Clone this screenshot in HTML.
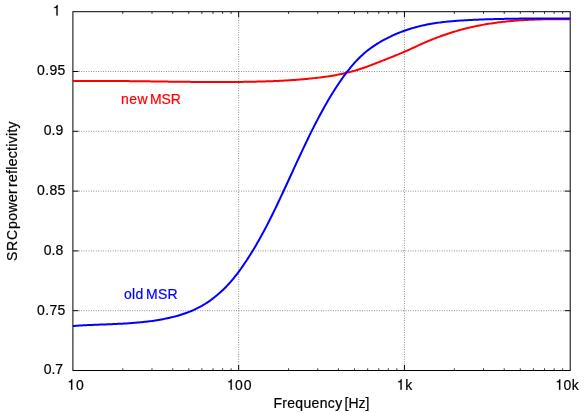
<!DOCTYPE html>
<html><head><meta charset="utf-8"><title>SRC power reflectivity</title>
<style>
html,body{margin:0;padding:0;background:#fff;}
body{width:581px;height:413px;overflow:hidden;}
svg{display:block;will-change:transform;}
text{font-family:"Liberation Sans",sans-serif;font-size:14px;fill:#000;stroke:#000;stroke-width:0.2px;}
</style></head><body>
<svg width="581" height="413" viewBox="0 0 581 413">
<rect x="0" y="0" width="581" height="413" fill="#fff"/>

<g stroke="#000" stroke-width="0.55" stroke-dasharray="0.8 1.62" fill="none">
<path d="M78.90,71.50 H564.20"/>
<path d="M78.90,131.30 H564.20"/>
<path d="M78.90,191.10 H564.20"/>
<path d="M78.90,250.90 H564.20"/>
<path d="M78.90,310.70 H564.20"/>
<path d="M238.67,17.70 V364.50"/>
<path d="M404.43,17.70 V364.50"/>
</g>
<path d="M72.90,71.50 h5.5 M570.20,71.50 h-5.5 M72.90,131.30 h5.5 M570.20,131.30 h-5.5 M72.90,191.10 h5.5 M570.20,191.10 h-5.5 M72.90,250.90 h5.5 M570.20,250.90 h-5.5 M72.90,310.70 h5.5 M570.20,310.70 h-5.5 M238.67,370.50 v-5.5 M238.67,11.70 v5.5 M404.43,370.50 v-5.5 M404.43,11.70 v5.5" stroke="#000" stroke-width="1" fill="none"/>
<path d="M122.80,370.50 v-2.2 M122.80,11.70 v2.2 M151.99,370.50 v-2.2 M151.99,11.70 v2.2 M172.70,370.50 v-2.2 M172.70,11.70 v2.2 M188.77,370.50 v-2.2 M188.77,11.70 v2.2 M201.89,370.50 v-2.2 M201.89,11.70 v2.2 M212.99,370.50 v-2.2 M212.99,11.70 v2.2 M222.60,370.50 v-2.2 M222.60,11.70 v2.2 M231.08,370.50 v-2.2 M231.08,11.70 v2.2 M288.57,370.50 v-2.2 M288.57,11.70 v2.2 M317.76,370.50 v-2.2 M317.76,11.70 v2.2 M338.47,370.50 v-2.2 M338.47,11.70 v2.2 M354.53,370.50 v-2.2 M354.53,11.70 v2.2 M367.66,370.50 v-2.2 M367.66,11.70 v2.2 M378.76,370.50 v-2.2 M378.76,11.70 v2.2 M388.37,370.50 v-2.2 M388.37,11.70 v2.2 M396.85,370.50 v-2.2 M396.85,11.70 v2.2 M454.33,370.50 v-2.2 M454.33,11.70 v2.2 M483.52,370.50 v-2.2 M483.52,11.70 v2.2 M504.23,370.50 v-2.2 M504.23,11.70 v2.2 M520.30,370.50 v-2.2 M520.30,11.70 v2.2 M533.42,370.50 v-2.2 M533.42,11.70 v2.2 M544.52,370.50 v-2.2 M544.52,11.70 v2.2 M554.14,370.50 v-2.2 M554.14,11.70 v2.2 M562.61,370.50 v-2.2 M562.61,11.70 v2.2" stroke="#000" stroke-width="0.8" fill="none"/>
<rect x="72.9" y="11.7" width="497.30" height="358.80" fill="none" stroke="#000" stroke-width="1"/>
<path d="M72.90,81.09 L74.40,81.07 L75.90,81.05 L77.40,81.03 L78.90,81.02 L80.40,81.01 L81.90,80.99 L83.40,80.98 L84.90,80.97 L86.40,80.97 L87.90,80.96 L89.40,80.95 L90.90,80.95 L92.40,80.94 L93.90,80.94 L95.40,80.94 L96.90,80.94 L98.40,80.94 L99.90,80.94 L101.40,80.94 L102.90,80.94 L104.40,80.95 L105.90,80.95 L107.40,80.96 L108.90,80.97 L110.40,80.97 L111.90,80.98 L113.40,80.99 L114.90,81.00 L116.40,81.01 L117.90,81.02 L119.40,81.03 L120.90,81.05 L122.40,81.06 L123.90,81.07 L125.40,81.09 L126.90,81.10 L128.40,81.12 L129.90,81.13 L131.40,81.15 L132.90,81.16 L134.40,81.18 L135.90,81.20 L137.40,81.22 L138.90,81.23 L140.40,81.25 L141.90,81.27 L143.40,81.29 L144.90,81.31 L146.40,81.33 L147.90,81.35 L149.40,81.37 L150.90,81.39 L152.40,81.41 L153.90,81.43 L155.40,81.45 L156.90,81.47 L158.40,81.49 L159.90,81.51 L161.40,81.53 L162.90,81.55 L164.40,81.57 L165.90,81.59 L167.40,81.61 L168.90,81.63 L170.40,81.65 L171.90,81.67 L173.40,81.69 L174.90,81.70 L176.40,81.72 L177.90,81.74 L179.40,81.76 L180.90,81.78 L182.40,81.79 L183.90,81.81 L185.40,81.83 L186.90,81.84 L188.40,81.86 L189.90,81.87 L191.40,81.89 L192.90,81.90 L194.40,81.91 L195.90,81.93 L197.40,81.94 L198.90,81.95 L200.40,81.96 L201.90,81.97 L203.40,81.98 L204.90,81.99 L206.40,82.00 L207.90,82.00 L209.40,82.01 L210.90,82.02 L212.40,82.02 L213.90,82.02 L215.40,82.03 L216.90,82.03 L218.40,82.03 L219.90,82.03 L221.40,82.03 L222.90,82.03 L224.40,82.02 L225.90,82.02 L227.40,82.01 L228.90,82.01 L230.40,82.00 L231.90,81.99 L233.40,81.98 L234.90,81.97 L236.40,81.96 L237.90,81.94 L239.40,81.93 L240.90,81.91 L242.40,81.89 L243.90,81.87 L245.40,81.85 L246.90,81.83 L248.40,81.80 L249.90,81.78 L251.40,81.75 L252.90,81.72 L254.40,81.69 L255.90,81.66 L257.40,81.62 L258.90,81.58 L260.40,81.54 L261.90,81.50 L263.40,81.46 L264.90,81.41 L266.40,81.36 L267.90,81.31 L269.40,81.26 L270.90,81.20 L272.40,81.14 L273.90,81.08 L275.40,81.01 L276.90,80.95 L278.40,80.88 L279.90,80.80 L281.40,80.73 L282.90,80.65 L284.40,80.56 L285.90,80.48 L287.40,80.39 L288.90,80.29 L290.40,80.20 L291.90,80.10 L293.40,79.99 L294.90,79.89 L296.40,79.78 L297.90,79.66 L299.40,79.54 L300.90,79.42 L302.40,79.30 L303.90,79.16 L305.40,79.03 L306.90,78.89 L308.40,78.75 L309.90,78.60 L311.40,78.45 L312.90,78.29 L314.40,78.13 L315.90,77.97 L317.40,77.79 L318.90,77.62 L320.40,77.43 L321.90,77.24 L323.40,77.04 L324.90,76.83 L326.40,76.62 L327.90,76.40 L329.40,76.17 L330.90,75.93 L332.40,75.68 L333.90,75.42 L335.40,75.16 L336.90,74.88 L338.40,74.59 L339.90,74.29 L341.40,73.98 L342.90,73.66 L344.40,73.33 L345.90,72.98 L347.40,72.62 L348.90,72.25 L350.40,71.87 L351.90,71.47 L353.40,71.06 L354.90,70.63 L356.40,70.19 L357.90,69.74 L359.40,69.27 L360.90,68.78 L362.40,68.28 L363.90,67.77 L365.40,67.24 L366.90,66.70 L368.40,66.15 L369.90,65.59 L371.40,65.02 L372.90,64.44 L374.40,63.86 L375.90,63.28 L377.40,62.69 L378.90,62.10 L380.40,61.50 L381.90,60.91 L383.40,60.32 L384.90,59.73 L386.40,59.13 L387.90,58.54 L389.40,57.94 L390.90,57.35 L392.40,56.75 L393.90,56.14 L395.40,55.53 L396.90,54.92 L398.40,54.30 L399.90,53.68 L401.40,53.05 L402.90,52.41 L404.40,51.77 L405.90,51.12 L407.40,50.46 L408.90,49.79 L410.40,49.12 L411.90,48.43 L413.40,47.74 L414.90,47.05 L416.40,46.35 L417.90,45.65 L419.40,44.96 L420.90,44.28 L422.40,43.60 L423.90,42.94 L425.40,42.28 L426.90,41.64 L428.40,41.01 L429.90,40.38 L431.40,39.77 L432.90,39.16 L434.40,38.57 L435.90,37.99 L437.40,37.42 L438.90,36.85 L440.40,36.30 L441.90,35.76 L443.40,35.23 L444.90,34.71 L446.40,34.20 L447.90,33.69 L449.40,33.20 L450.90,32.72 L452.40,32.25 L453.90,31.79 L455.40,31.34 L456.90,30.90 L458.40,30.47 L459.90,30.05 L461.40,29.63 L462.90,29.23 L464.40,28.84 L465.90,28.46 L467.40,28.09 L468.90,27.73 L470.40,27.38 L471.90,27.03 L473.40,26.70 L474.90,26.38 L476.40,26.06 L477.90,25.75 L479.40,25.46 L480.90,25.17 L482.40,24.89 L483.90,24.62 L485.40,24.36 L486.90,24.10 L488.40,23.85 L489.90,23.62 L491.40,23.39 L492.90,23.16 L494.40,22.95 L495.90,22.74 L497.40,22.54 L498.90,22.35 L500.40,22.16 L501.90,21.98 L503.40,21.81 L504.90,21.65 L506.40,21.49 L507.90,21.34 L509.40,21.19 L510.90,21.05 L512.40,20.92 L513.90,20.79 L515.40,20.67 L516.90,20.55 L518.40,20.44 L519.90,20.34 L521.40,20.24 L522.90,20.15 L524.40,20.06 L525.90,19.98 L527.40,19.90 L528.90,19.83 L530.40,19.76 L531.90,19.69 L533.40,19.63 L534.90,19.58 L536.40,19.53 L537.90,19.48 L539.40,19.44 L540.90,19.40 L542.40,19.36 L543.90,19.33 L545.40,19.30 L546.90,19.27 L548.40,19.25 L549.90,19.23 L551.40,19.22 L552.90,19.20 L554.40,19.19 L555.90,19.18 L557.40,19.18 L558.90,19.18 L560.40,19.17 L561.90,19.18 L563.40,19.18 L564.90,19.18 L566.40,19.19 L567.90,19.20 L569.40,19.21 L570.20,19.21" stroke="#ff0000" stroke-width="2" fill="none" stroke-linejoin="round"/>
<path d="M72.90,326.04 L74.40,325.93 L75.90,325.82 L77.40,325.71 L78.90,325.62 L80.40,325.52 L81.90,325.43 L83.40,325.35 L84.90,325.27 L86.40,325.19 L87.90,325.12 L89.40,325.05 L90.90,324.98 L92.40,324.91 L93.90,324.85 L95.40,324.79 L96.90,324.72 L98.40,324.67 L99.90,324.61 L101.40,324.55 L102.90,324.49 L104.40,324.43 L105.90,324.38 L107.40,324.32 L108.90,324.26 L110.40,324.20 L111.90,324.14 L113.40,324.08 L114.90,324.01 L116.40,323.94 L117.90,323.87 L119.40,323.80 L120.90,323.73 L122.40,323.65 L123.90,323.57 L125.40,323.48 L126.90,323.39 L128.40,323.29 L129.90,323.19 L131.40,323.09 L132.90,322.98 L134.40,322.86 L135.90,322.74 L137.40,322.61 L138.90,322.47 L140.40,322.33 L141.90,322.18 L143.40,322.03 L144.90,321.86 L146.40,321.69 L147.90,321.51 L149.40,321.32 L150.90,321.12 L152.40,320.91 L153.90,320.70 L155.40,320.47 L156.90,320.23 L158.40,319.99 L159.90,319.73 L161.40,319.46 L162.90,319.18 L164.40,318.89 L165.90,318.59 L167.40,318.27 L168.90,317.94 L170.40,317.60 L171.90,317.25 L173.40,316.88 L174.90,316.50 L176.40,316.10 L177.90,315.68 L179.40,315.24 L180.90,314.79 L182.40,314.31 L183.90,313.81 L185.40,313.29 L186.90,312.75 L188.40,312.18 L189.90,311.59 L191.40,310.97 L192.90,310.32 L194.40,309.64 L195.90,308.93 L197.40,308.20 L198.90,307.43 L200.40,306.62 L201.90,305.79 L203.40,304.91 L204.90,304.01 L206.40,303.06 L207.90,302.08 L209.40,301.06 L210.90,300.00 L212.40,298.90 L213.90,297.75 L215.40,296.57 L216.90,295.34 L218.40,294.06 L219.90,292.74 L221.40,291.36 L222.90,289.94 L224.40,288.47 L225.90,286.95 L227.40,285.38 L228.90,283.75 L230.40,282.06 L231.90,280.32 L233.40,278.53 L234.90,276.67 L236.40,274.77 L237.90,272.80 L239.40,270.79 L240.90,268.72 L242.40,266.60 L243.90,264.44 L245.40,262.22 L246.90,259.96 L248.40,257.65 L249.90,255.30 L251.40,252.90 L252.90,250.46 L254.40,247.97 L255.90,245.43 L257.40,242.85 L258.90,240.23 L260.40,237.55 L261.90,234.83 L263.40,232.06 L264.90,229.24 L266.40,226.38 L267.90,223.46 L269.40,220.51 L270.90,217.52 L272.40,214.48 L273.90,211.42 L275.40,208.32 L276.90,205.20 L278.40,202.05 L279.90,198.87 L281.40,195.68 L282.90,192.46 L284.40,189.24 L285.90,185.99 L287.40,182.74 L288.90,179.49 L290.40,176.23 L291.90,172.96 L293.40,169.70 L294.90,166.44 L296.40,163.19 L297.90,159.95 L299.40,156.72 L300.90,153.50 L302.40,150.30 L303.90,147.13 L305.40,143.97 L306.90,140.84 L308.40,137.74 L309.90,134.67 L311.40,131.64 L312.90,128.64 L314.40,125.67 L315.90,122.75 L317.40,119.87 L318.90,117.02 L320.40,114.22 L321.90,111.46 L323.40,108.73 L324.90,106.06 L326.40,103.42 L327.90,100.83 L329.40,98.28 L330.90,95.78 L332.40,93.33 L333.90,90.92 L335.40,88.56 L336.90,86.24 L338.40,83.98 L339.90,81.76 L341.40,79.60 L342.90,77.48 L344.40,75.42 L345.90,73.40 L347.40,71.45 L348.90,69.54 L350.40,67.69 L351.90,65.89 L353.40,64.15 L354.90,62.46 L356.40,60.84 L357.90,59.27 L359.40,57.75 L360.90,56.30 L362.40,54.90 L363.90,53.57 L365.40,52.28 L366.90,51.05 L368.40,49.87 L369.90,48.73 L371.40,47.64 L372.90,46.58 L374.40,45.57 L375.90,44.59 L377.40,43.65 L378.90,42.73 L380.40,41.85 L381.90,40.99 L383.40,40.15 L384.90,39.34 L386.40,38.54 L387.90,37.77 L389.40,37.03 L390.90,36.30 L392.40,35.60 L393.90,34.92 L395.40,34.26 L396.90,33.62 L398.40,33.00 L399.90,32.40 L401.40,31.81 L402.90,31.25 L404.40,30.71 L405.90,30.19 L407.40,29.68 L408.90,29.20 L410.40,28.72 L411.90,28.27 L413.40,27.84 L414.90,27.42 L416.40,27.01 L417.90,26.62 L419.40,26.25 L420.90,25.89 L422.40,25.55 L423.90,25.22 L425.40,24.90 L426.90,24.60 L428.40,24.31 L429.90,24.03 L431.40,23.77 L432.90,23.52 L434.40,23.27 L435.90,23.04 L437.40,22.83 L438.90,22.62 L440.40,22.42 L441.90,22.23 L443.40,22.05 L444.90,21.88 L446.40,21.72 L447.90,21.56 L449.40,21.42 L450.90,21.28 L452.40,21.15 L453.90,21.02 L455.40,20.91 L456.90,20.79 L458.40,20.69 L459.90,20.59 L461.40,20.49 L462.90,20.40 L464.40,20.31 L465.90,20.23 L467.40,20.15 L468.90,20.07 L470.40,19.99 L471.90,19.92 L473.40,19.85 L474.90,19.79 L476.40,19.72 L477.90,19.66 L479.40,19.60 L480.90,19.54 L482.40,19.48 L483.90,19.43 L485.40,19.37 L486.90,19.32 L488.40,19.27 L489.90,19.23 L491.40,19.18 L492.90,19.14 L494.40,19.10 L495.90,19.06 L497.40,19.02 L498.90,18.98 L500.40,18.95 L501.90,18.91 L503.40,18.88 L504.90,18.85 L506.40,18.82 L507.90,18.79 L509.40,18.77 L510.90,18.74 L512.40,18.72 L513.90,18.70 L515.40,18.68 L516.90,18.66 L518.40,18.64 L519.90,18.62 L521.40,18.61 L522.90,18.59 L524.40,18.58 L525.90,18.56 L527.40,18.55 L528.90,18.54 L530.40,18.53 L531.90,18.52 L533.40,18.51 L534.90,18.51 L536.40,18.50 L537.90,18.49 L539.40,18.49 L540.90,18.48 L542.40,18.48 L543.90,18.47 L545.40,18.47 L546.90,18.47 L548.40,18.46 L549.90,18.46 L551.40,18.46 L552.90,18.46 L554.40,18.46 L555.90,18.46 L557.40,18.46 L558.90,18.46 L560.40,18.46 L561.90,18.46 L563.40,18.46 L564.90,18.45 L566.40,18.45 L567.90,18.45 L569.40,18.45 L570.20,18.45" stroke="#0000ff" stroke-width="2" fill="none" stroke-linejoin="round"/>
<path transform="translate(52.68,15.50) scale(14,-14.700)" d="M0.355 0H0.265V0.505H0.105V0.568C0.2 0.568 0.275 0.61 0.292 0.709H0.355Z" fill="#000" stroke="#000" stroke-width="0.0143"/>
<text transform="translate(0,75.30) scale(1,1.05)" x="37.03" y="0" style="letter-spacing:0.380px;">0.95</text>
<text transform="translate(0,135.10) scale(1,1.05)" x="43.83" y="0" style="letter-spacing:-0.010px;">0.9</text>
<text transform="translate(0,194.90) scale(1,1.05)" x="37.03" y="0" style="letter-spacing:0.380px;">0.85</text>
<text transform="translate(0,254.70) scale(1,1.05)" x="43.83" y="0" style="letter-spacing:-0.015px;">0.8</text>
<text transform="translate(0,314.50) scale(1,1.05)" x="37.03" y="0" style="letter-spacing:0.380px;">0.75</text>
<text transform="translate(0,374.30) scale(1,1.05)" x="43.83" y="0" style="letter-spacing:-0.107px;">0.7</text>
<path transform="translate(67.33,389.70) scale(14,-14.700)" d="M0.355 0H0.265V0.505H0.105V0.568C0.2 0.568 0.275 0.61 0.292 0.709H0.355Z" fill="#000" stroke="#000" stroke-width="0.0143"/>
<text transform="translate(0,389.70) scale(1,1.05)" y="0" x="76.00">0</text>
<path transform="translate(226.83,389.70) scale(14,-14.700)" d="M0.355 0H0.265V0.505H0.105V0.568C0.2 0.568 0.275 0.61 0.292 0.709H0.355Z" fill="#000" stroke="#000" stroke-width="0.0143"/>
<text transform="translate(0,389.70) scale(1,1.05)" y="0" x="235.05 243.70">00</text>
<path transform="translate(396.73,389.70) scale(14,-14.700)" d="M0.355 0H0.265V0.505H0.105V0.568C0.2 0.568 0.275 0.61 0.292 0.709H0.355Z" fill="#000" stroke="#000" stroke-width="0.0143"/>
<text transform="translate(0,389.70) scale(1,1.05)" y="0" x="405.20">k</text>
<path transform="translate(555.33,389.70) scale(14,-14.700)" d="M0.355 0H0.265V0.505H0.105V0.568C0.2 0.568 0.275 0.61 0.292 0.709H0.355Z" fill="#000" stroke="#000" stroke-width="0.0143"/>
<text transform="translate(0,389.70) scale(1,1.05)" y="0" x="563.60 571.67">0k</text>
<text transform="translate(0,407.70) scale(1,1.05)" x="273.39" y="0" style="letter-spacing:0.336px;">Frequency</text>
<text transform="translate(0,407.70) scale(1,1.05)" x="344.60" y="0" style="letter-spacing:-0.042px;">[Hz]</text>
<text transform="translate(16.70,260.92) rotate(-90) scale(1,1.05)" x="0" y="0" style="letter-spacing:0.701px">SRC</text>
<text transform="translate(16.70,228.96) rotate(-90) scale(1,1.05)" x="0" y="0" style="letter-spacing:0.404px">power</text>
<text transform="translate(16.70,186.93) rotate(-90) scale(1,1.05)" x="0" y="0" style="letter-spacing:0.301px">reflectivity</text>
<text transform="translate(0,104.30) scale(1,1.05)" x="121.12" y="0" style="letter-spacing:0.392px;fill:#ff0000;stroke:#ff0000;">new</text>
<text transform="translate(0,104.30) scale(1,1.05)" x="150.09" y="0" style="letter-spacing:-0.138px;fill:#ff0000;stroke:#ff0000;">MSR</text>
<text transform="translate(0,298.70) scale(1,1.05)" x="124.06" y="0" style="letter-spacing:0.269px;fill:#0000ff;stroke:#0000ff;">old</text>
<text transform="translate(0,298.70) scale(1,1.05)" x="146.09" y="0" style="letter-spacing:0.162px;fill:#0000ff;stroke:#0000ff;">MSR</text>
</svg></body></html>
